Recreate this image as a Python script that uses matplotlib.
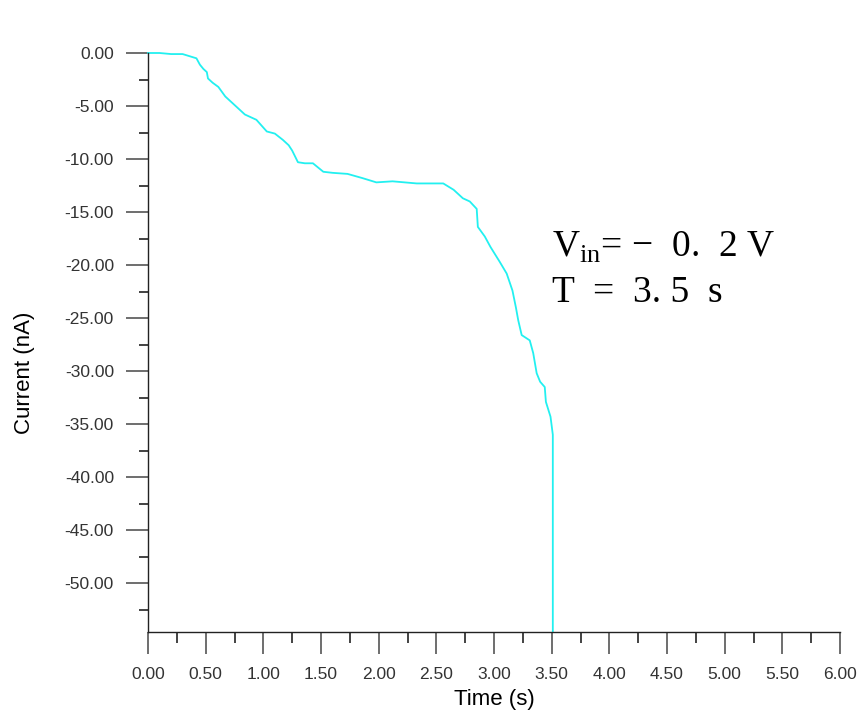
import matplotlib
matplotlib.use("Agg")
import matplotlib.pyplot as plt
from matplotlib.ticker import MultipleLocator, FormatStrFormatter

plt.rcParams["font.family"] = ["Liberation Sans", "DejaVu Sans"]
plt.rcParams["axes.unicode_minus"] = False
plt.rcParams["mathtext.fontset"] = "custom"
plt.rcParams["mathtext.rm"] = "Liberation Serif"

# Measured current trace
time_s = [0.00, 0.10, 0.20, 0.30, 0.36, 0.42, 0.45, 0.48, 0.51, 0.52,
          0.56, 0.61, 0.67, 0.75, 0.84, 0.94, 1.03, 1.10, 1.17, 1.22,
          1.25, 1.30, 1.36, 1.43, 1.52, 1.60, 1.73, 1.86, 1.98, 2.12,
          2.33, 2.45, 2.56, 2.65, 2.73, 2.79, 2.85, 2.86, 2.92, 2.97,
          3.05, 3.11, 3.16, 3.19, 3.21, 3.24, 3.31, 3.34, 3.37, 3.40,
          3.44, 3.45, 3.49, 3.51, 3.51]
current_nA = [0.0, 0.0, -0.1, -0.1, -0.3, -0.5, -1.1, -1.5, -1.8, -2.4,
              -2.8, -3.2, -4.1, -4.9, -5.8, -6.3, -7.4, -7.6, -8.2, -8.7,
              -9.2, -10.3, -10.4, -10.4, -11.2, -11.3, -11.4, -11.8, -12.2, -12.1,
              -12.3, -12.3, -12.3, -12.9, -13.7, -14.0, -14.7, -16.4, -17.3, -18.3,
              -19.7, -20.8, -22.4, -24.0, -25.2, -26.6, -27.1, -28.3, -30.2, -31.0,
              -31.5, -32.9, -34.3, -36.0, -54.6]

x_limits = (0.0, 6.0)
y_limits = (-54.6, 0.0)

W, H = 868, 713
fig = plt.figure(figsize=(W / 100, H / 100), dpi=100)
ax_l, ax_r, ax_t, ax_b = 148, 840, 53, 632
ax = fig.add_axes([ax_l / W, (H - ax_b) / H, (ax_r - ax_l) / W, (ax_b - ax_t) / H])

ax.plot(time_s, current_nA, color="#22f0f0", lw=1.3, clip_on=False)

ax.set_xlim(*x_limits)
ax.set_ylim(*y_limits)

for side in ("top", "right"):
    ax.spines[side].set_visible(False)
for side in ("left", "bottom"):
    ax.spines[side].set_color("#222222")
    ax.spines[side].set_linewidth(1.0)

ax.xaxis.set_major_locator(MultipleLocator(0.5))
ax.xaxis.set_minor_locator(MultipleLocator(0.25))
ax.yaxis.set_major_locator(MultipleLocator(5))
ax.yaxis.set_minor_locator(MultipleLocator(2.5))
ax.xaxis.set_major_formatter(FormatStrFormatter("%.2f"))
ax.yaxis.set_major_formatter(FormatStrFormatter("%.2f"))

ax.tick_params(which="major", direction="out", length=15.5, width=1.2,
               color="#555555", labelsize=12.5, labelcolor="#333333", pad=9)
ax.tick_params(axis="x", which="major", pad=10)
ax.tick_params(which="minor", direction="out", width=1.2, color="#222222")
ax.tick_params(axis="x", which="minor", length=8)
ax.tick_params(axis="y", which="minor", length=6.5)

ax.set_xlabel("Time (s)", fontsize=16)
ax.set_ylabel("Current (nA)", fontsize=16)
ax.xaxis.set_label_coords(0.5, -0.098)
ax.yaxis.set_label_coords(-0.163, 0.447)

ax.text(552 / W, 1 - 257 / H, "V$_{\\mathrm{in}}$= \u2212  0.  2 V",
        transform=fig.transFigure, fontsize=27, family="Liberation Serif",
        ha="left", va="baseline")
ax.text(552 / W, 1 - 302 / H, "T  =  3. 5  s",
        transform=fig.transFigure, fontsize=27, family="Liberation Serif",
        ha="left", va="baseline")

fig.savefig("out.png", dpi=100)
